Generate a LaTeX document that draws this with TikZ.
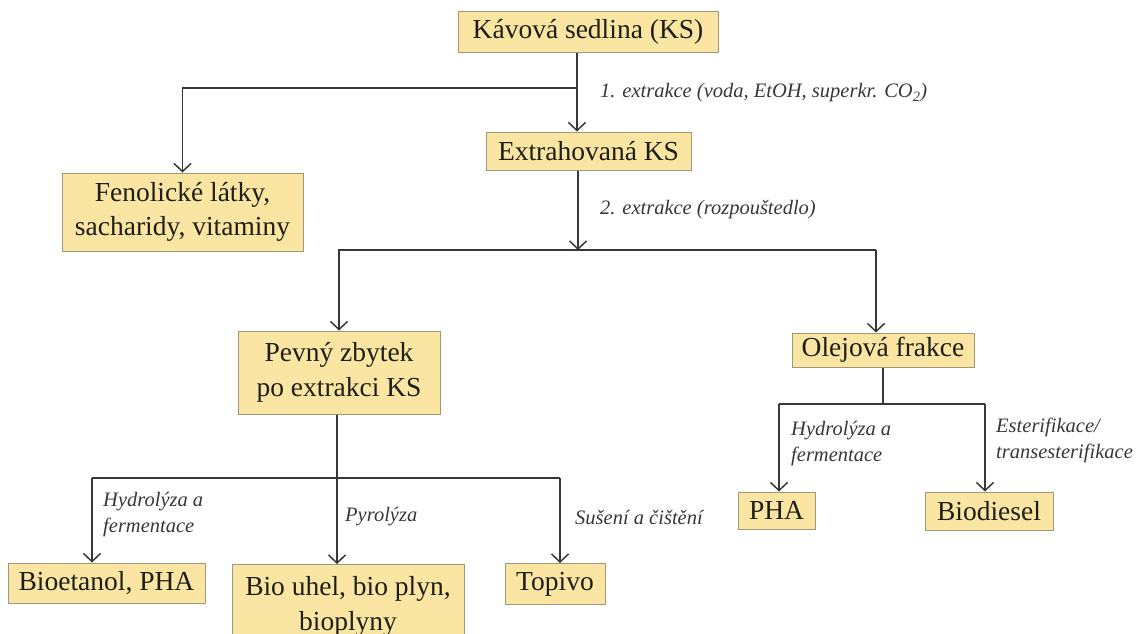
\documentclass[tikz,border=0pt]{standalone}
\usepackage{fontspec}
\setmainfont{LiberationSerif}[Extension=.ttf, UprightFont=*-Regular, ItalicFont=*-Italic, BoldFont=*-Bold, BoldItalicFont=*-BoldItalic]
\usetikzlibrary{arrows.meta}
\definecolor{boxfill}{RGB}{250,230,162}
\definecolor{boxline}{RGB}{160,152,120}
\definecolor{linecol}{RGB}{55,55,55}
\definecolor{txtcol}{RGB}{30,30,25}
\definecolor{lblcol}{RGB}{55,55,55}
\tikzset{
  box/.style={draw=boxline, line width=1pt, fill=boxfill, inner sep=0pt,
    align=center, text=txtcol, font=\fontsize{27.5}{34.5}\selectfont},
  lbl/.style={anchor=west, inner sep=0pt, align=left, text=lblcol,
    font=\fontsize{20.5}{26}\selectfont\itshape},
  conn/.style={draw=linecol, line width=1.5pt},
  arr/.style={conn, -{Straight Barb[length=8pt,width=17pt,line width=1.5pt]}}
}
\begin{document}
\begin{tikzpicture}[x=1pt,y=-1pt]
\useasboundingbox (0,0) rectangle (1138,633);
\clip (0,0) rectangle (1138,633);
% boxes
\node[box, minimum width=260pt, minimum height=41pt] (ks) at (588,31.5) {Kávová sedlina (KS)};
\node[box, minimum width=241pt, minimum height=78pt] (fen) at (182.5,212) {Fenolické látky,\\sacharidy, vitaminy};
\node[box, minimum width=205pt, minimum height=38pt] (ext) at (588.5,151) {Extrahovaná KS};
\node[box, minimum width=202pt, minimum height=83pt] (pev) at (339,372.5) {Pevný zbytek\\po extrakci KS};
\node[box, minimum width=182pt, minimum height=34pt] (ole) at (883,350) {Olejová frakce};
\node[box, minimum width=197pt, minimum height=40pt] (bio) at (106.5,583) {Bioetanol, PHA};
\node[box, minimum width=232pt, minimum height=84pt, anchor=north] (uhel) at (348,564) {Bio uhel, bio plyn,\\bioplyny};
\node[box, minimum width=100pt, minimum height=41pt] (top) at (555,584) {Topivo};
\node[box, minimum width=77pt, minimum height=37pt] (pha) at (776.5,510.5) {PHA};
\node[box, minimum width=128pt, minimum height=38pt] (dies) at (989,511) {Biodiesel};
% junction coordinates
\coordinate (j1) at (577,88);
\coordinate (j2) at (578,250);
\coordinate (j2r) at (876,250);
\coordinate (j3) at (337,478);
\coordinate (b1) at (92,478);
\coordinate (b3) at (560,478);
\coordinate (j4) at (883,404);
\coordinate (c1) at (779,404);
\coordinate (c2) at (985,404);
% connectors
\draw[arr] (ks.south -| j1) -- (ext.north -| j1);
\draw[arr] (j1) -| (fen.north);
\draw[arr] (ext.south -| j2) -- (j2);
\draw[conn] (j2) -- (j2r);
\draw[arr] (j2) -| (pev.north);
\draw[arr] (j2r) -- (j2r |- ole.north);
\draw[conn] (pev.south -| j3) -- (j3);
\draw[conn] (b1) -- (b3);
\draw[arr] (b1) -- (b1 |- bio.north);
\draw[arr] (j3) -- (j3 |- uhel.north);
\draw[arr] (b3) -- (b3 |- top.north);
\draw[conn] (ole.south) -- (j4);
\draw[conn] (c1) -- (c2);
\draw[arr] (c1) -- (c1 |- pha.north);
\draw[arr] (c2) -- (c2 |- dies.north);
% labels
\node[lbl] (l1) at (600,93) {1. extrakce (voda, EtOH, superkr. CO\textsubscript{2})};
\node[lbl] (l2) at (600,210) {2. extrakce (rozpouštedlo)};
\node[lbl] (l3) at (103,515) {Hydrolýza a\\fermentace};
\node[lbl] (l4) at (345,517) {Pyrolýza};
\node[lbl] (l5) at (575,517) {Sušení a čištění};
\node[lbl] (l6) at (791,444) {Hydrolýza a\\fermentace};
\node[lbl] (l7) at (996,440) {Esterifikace/\\transesterifikace};
\end{tikzpicture}
\end{document}
